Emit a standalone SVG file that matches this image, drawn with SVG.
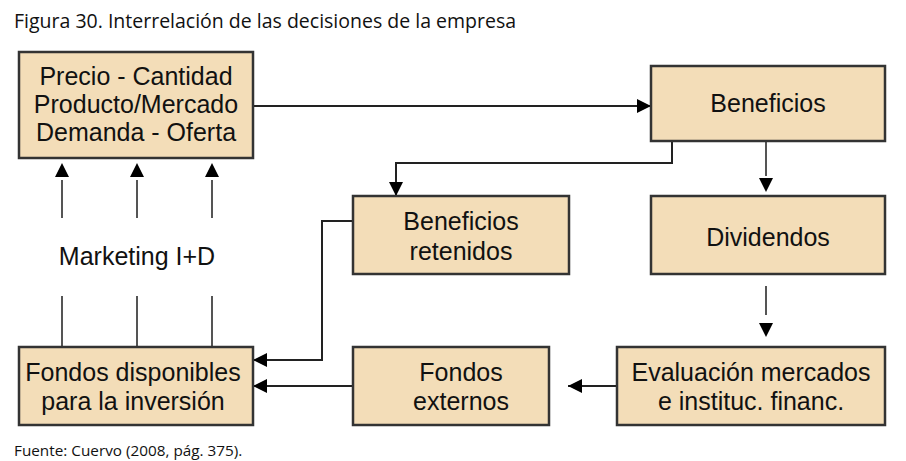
<svg xmlns="http://www.w3.org/2000/svg" width="906" height="461" viewBox="0 0 906 461">
<defs>
<marker id="ahb" viewBox="0 0 14 14" refX="14" refY="7" markerWidth="14" markerHeight="14" markerUnits="userSpaceOnUse" orient="auto"><path d="M0,0 L14,7 L0,14 z" fill="#000"/></marker>
</defs>
<style>
.box{fill:#F3DDB8;stroke:#333;stroke-width:2.5}
.t{font-family:"Liberation Sans",Arial,sans-serif;font-size:25px;fill:#111;text-anchor:middle}
.cap{font-family:"Open Sans","Liberation Sans",sans-serif;fill:#111}
.c{fill:none;stroke:#222;stroke-width:2}
.g{fill:none;stroke:#555;stroke-width:2}
</style>
<text class="cap" x="14" y="28" font-size="19.5">Figura 30. Interrelación de las decisiones de la empresa</text>
<text class="cap" x="14" y="456" font-size="15.3">Fuente: Cuervo (2008, pág. 375).</text>
<g id="connectors">
<path class="c" d="M253,106 H651" marker-end="url(#ahb)"/>
<path class="c" d="M672,141 V163 H396 V196" marker-end="url(#ahb)"/>
<path class="g" d="M766,141 V176"/>
<path d="M759,178 L773,178 L766,192 z" fill="#000"/>
<path class="g" d="M766,286 V315"/>
<path d="M759,323 L773,323 L766,337 z" fill="#000"/>
<path class="c" d="M617,386 H568" marker-end="url(#ahb)"/>
<path class="c" d="M353,386 H253" marker-end="url(#ahb)"/>
<path class="c" d="M353,221 H322 V360 H253" marker-end="url(#ahb)"/>
<path class="g" d="M62,347 V296 M137,347 V296 M212,347 V296"/>
<path class="g" d="M62,218 V180 M137,218 V180 M212,218 V180"/>
<path d="M55,177 L69,177 L62,163 z M130,177 L144,177 L137,163 z M205,177 L219,177 L212,163 z" fill="#000"/>
</g>
<g id="n1"><rect class="box" x="19" y="52" width="234" height="106"/>
<text class="t" x="136" y="85">Precio - Cantidad</text>
<text class="t" x="136" y="113">Producto/Mercado</text>
<text class="t" x="136" y="141">Demanda - Oferta</text></g>
<g id="n2"><rect class="box" x="651" y="66" width="234" height="75"/>
<text class="t" x="768" y="112">Beneficios</text></g>
<g id="n3"><rect class="box" x="353" y="196" width="216" height="78"/>
<text class="t" x="461" y="230">Beneficios</text>
<text class="t" x="461" y="260">retenidos</text></g>
<g id="n4"><rect class="box" x="651" y="196" width="234" height="78"/>
<text class="t" x="768" y="246">Dividendos</text></g>
<g id="n5"><text class="t" x="137" y="265">Marketing I+D</text></g>
<g id="n6"><rect class="box" x="19" y="347" width="234" height="78"/>
<text class="t" x="133" y="381">Fondos disponibles</text>
<text class="t" x="133" y="410">para la inversión</text></g>
<g id="n7"><rect class="box" x="353" y="347" width="196" height="78"/>
<text class="t" x="461" y="381">Fondos</text>
<text class="t" x="461" y="410">externos</text></g>
<g id="n8"><rect class="box" x="617" y="347" width="268" height="78"/>
<text class="t" x="751" y="381">Evaluación mercados</text>
<text class="t" x="751" y="410">e instituc. financ.</text></g>
</svg>
